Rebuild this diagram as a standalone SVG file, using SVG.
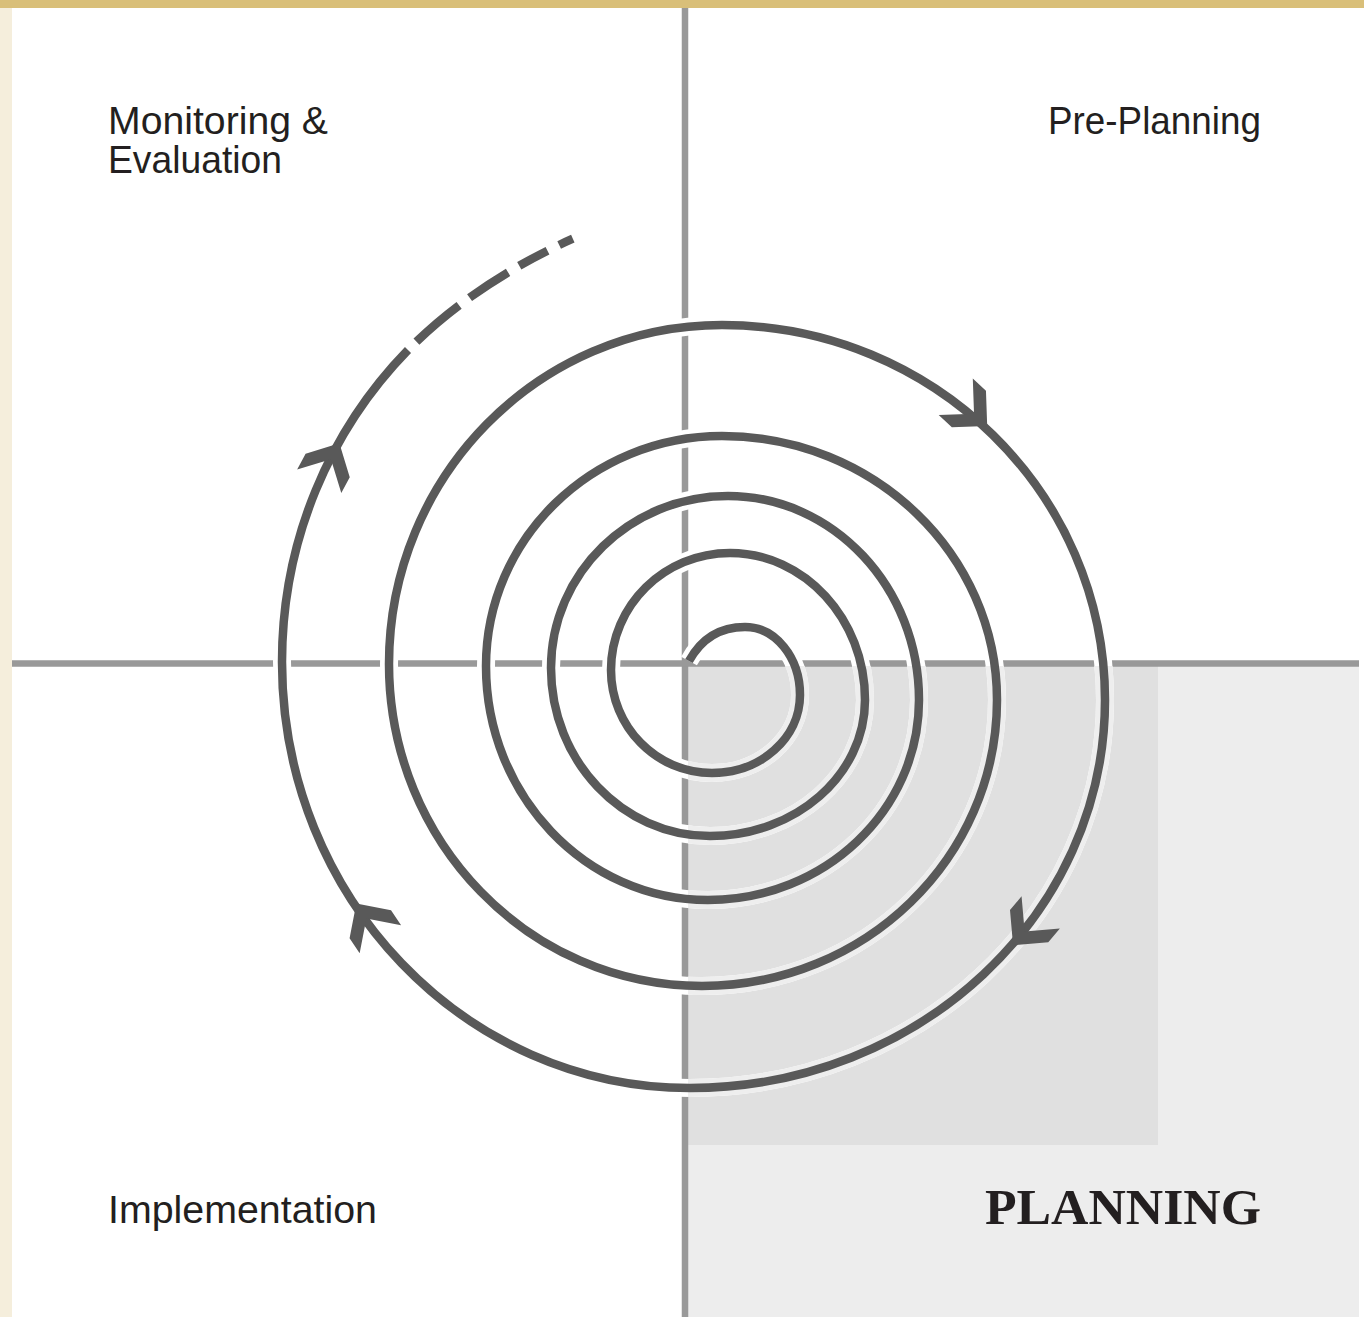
<svg xmlns="http://www.w3.org/2000/svg" xmlns:xlink="http://www.w3.org/1999/xlink" width="1364" height="1317" viewBox="0 0 1364 1317">
  <style>
    .lbl { font-family: "Liberation Sans", Arial, sans-serif; font-size: 39px; fill: #231F20; }
    .title { font-family: "Liberation Serif", "Times New Roman", serif; font-size: 51px; font-weight: bold; fill: #231F20; }
    .axis { stroke: #999999; stroke-width: 6.5; fill: none; }
    .halo { stroke: #FFFFFF; stroke-width: 18; fill: none; }
    .spiral { stroke: #595959; stroke-width: 8.5; fill: none; }
  </style>
  <defs>
    <path id="chev" d="M3,0 L-22,25 L-40,25 L-15,0 L-40,-25 L-22,-25 Z" fill="#595959"/>
    <clipPath id="grayclip"><rect x="688" y="666" width="671" height="651"/></clipPath>
    <path id="spiralPath" d="M689,661 C700,641 718,627 745,627 C775.4,627 800,657.5 800,695 C800,738.1 760.6,773 712,773 C656.2,773 611,726.9 611,670 C611,605.4 664.3,553 730,553 C804.5,553 865,618.9 865,700 C865,775.1 795.6,836 710,836 C622.2,836 551,760.7 551,668 C551,573.1 630.3,496 728,496 C833.4,496 919,587.4 919,700 C919,810.4 824.5,900 708,900 C585.5,900 486,795.2 486,666 C486,539 591.7,436 722,436 C873.8,436 997,554.3 997,700 C997,857.9 864.8,986 702,986 C529.2,986 389,841.7 389,664 C389,476.9 538.2,325 722,325 C933.4,325 1105,493 1105,700 C1105,914.2 919.1,1088 690,1088 C464.8,1088 282,897.2 282,662 C282,540 330,430 408,350"/>
  </defs>

  <g id="background">
    <rect x="0" y="0" width="1364" height="1317" fill="#FFFFFF"/>
    <rect x="0" y="0" width="1364" height="8" fill="#D9BF79"/>
    <rect x="0" y="8" width="12" height="1309" fill="#F5EEDC"/>
    <rect x="688" y="666" width="671" height="651" fill="#EDEDED"/>
    <rect x="688" y="666" width="470" height="479" fill="#E0E0E0"/>
  </g>

  <g id="axes">
    <line class="axis" x1="685" y1="8" x2="685" y2="1317"/>
    <line class="axis" x1="12" y1="663.5" x2="1359" y2="663.5"/>
  </g>

  <g id="connectors">
    <use xlink:href="#spiralPath" class="halo"/>
    <g clip-path="url(#grayclip)">
      <use xlink:href="#spiralPath" class="halo" style="stroke:#EEEEEE"/>
    </g>
    <use xlink:href="#spiralPath" class="spiral"/>
    <path class="spiral" d="M408,350 C452,305 512,265 579,236" stroke-dasharray="0 12 56 13 46 13 32 13 15 60"/>
    <use xlink:href="#chev" transform="translate(985,424) rotate(43)"/>
    <use xlink:href="#chev" transform="translate(1015,943) rotate(130)"/>
    <use xlink:href="#chev" transform="translate(358,906) rotate(-124)"/>
    <use xlink:href="#chev" transform="translate(338,446) rotate(-62)"/>
  </g>

  <g id="node-monitoring">
    <text class="lbl" x="108" y="134" textLength="220" lengthAdjust="spacingAndGlyphs">Monitoring &amp;</text>
    <text class="lbl" x="108" y="173" textLength="174" lengthAdjust="spacingAndGlyphs">Evaluation</text>
  </g>
  <g id="node-preplanning">
    <text class="lbl" x="1048" y="134" textLength="213" lengthAdjust="spacingAndGlyphs">Pre-Planning</text>
  </g>
  <g id="node-implementation">
    <text class="lbl" x="108" y="1223" textLength="269" lengthAdjust="spacingAndGlyphs">Implementation</text>
  </g>
  <g id="node-planning">
    <text class="title" x="985" y="1224" textLength="276" lengthAdjust="spacingAndGlyphs">PLANNING</text>
  </g>
</svg>
